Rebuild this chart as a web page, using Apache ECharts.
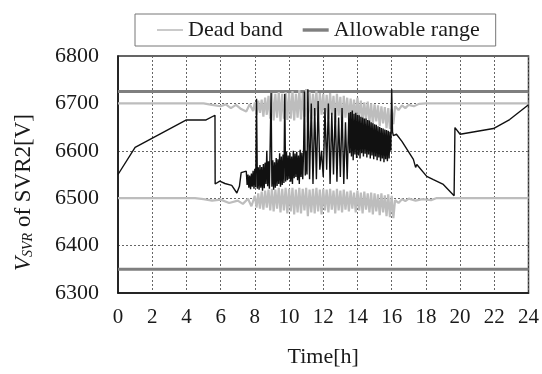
<!DOCTYPE html>
<html>
<head>
<meta charset="utf-8">
<script src="https://cdn.jsdelivr.net/npm/echarts@6/dist/echarts.min.js"></script>
<style>
  html, body { margin: 0; padding: 0; background: #fff; }
  #chart { width: 542px; height: 374px; }
</style>
</head>
<body>
<div id="chart"></div>
<script>
// Axis ticks
const hourTicks = [0, 2, 4, 6, 8, 10, 12, 14, 16, 18, 20, 22, 24];
const voltTicks = [6300, 6400, 6500, 6600, 6700, 6800];

// Allowable voltage range (upper / lower limits)
const allowUpper = [[0, 6725], [24, 6725]];
const allowLower = [[0, 6350], [24, 6350]];

// Dead band, upper edge [h, V]
const deadUpper = [
  [0, 6700], [5, 6700], [5.5, 6697], [6, 6694], [6.3, 6698], [6.6, 6690], [6.9, 6697], [7.2, 6688],
  [7.5, 6683], [7.7, 6698], [7.9, 6684], [8.0, 6702], [8.1, 6676], [8.2, 6706], [8.3, 6680], [8.4, 6708],
  [8.5, 6672], [8.6, 6712], [8.7, 6676], [8.8, 6716], [8.9, 6668], [9.0, 6722], [9.1, 6664], [9.2, 6720],
  [9.3, 6670], [9.4, 6724], [9.5, 6662], [9.6, 6720], [9.7, 6668], [9.8, 6724], [9.9, 6665], [10.0, 6722],
  [10.1, 6668], [10.2, 6726], [10.3, 6664], [10.4, 6720], [10.5, 6670], [10.6, 6728], [10.7, 6666], [10.8, 6722],
  [10.9, 6672], [11.0, 6730], [11.1, 6660], [11.2, 6724], [11.3, 6668], [11.4, 6720], [11.5, 6674], [11.6, 6726],
  [11.7, 6666], [11.8, 6722], [11.9, 6676], [12.0, 6720], [12.1, 6672], [12.2, 6718], [12.3, 6668], [12.4, 6722],
  [12.5, 6676], [12.6, 6716], [12.7, 6660], [12.8, 6720], [12.9, 6674], [13.0, 6714], [13.1, 6652], [13.2, 6716],
  [13.3, 6670], [13.4, 6712], [13.5, 6666], [13.6, 6710], [13.7, 6672], [13.8, 6708], [13.9, 6664], [14.0, 6712],
  [14.1, 6670], [14.2, 6706], [14.3, 6662], [14.4, 6702], [14.5, 6666], [14.6, 6704], [14.7, 6660], [14.8, 6700],
  [14.9, 6656], [15.0, 6698], [15.1, 6662], [15.2, 6696], [15.3, 6652], [15.4, 6694], [15.5, 6658], [15.6, 6692],
  [15.7, 6648], [15.8, 6690], [15.9, 6646], [16.0, 6688], [16.1, 6656], [16.2, 6694], [16.4, 6686], [16.6, 6696],
  [16.8, 6690], [17.0, 6697], [17.3, 6694], [17.6, 6699], [18, 6700], [24, 6700]
];

// Dead band, lower edge [h, V]
const deadLower = [
  [0, 6500], [4.5, 6500], [5, 6498], [5.5, 6495], [6, 6497], [6.5, 6490], [7, 6495], [7.3, 6488],
  [7.6, 6499], [7.8, 6483], [8.0, 6505], [8.1, 6480], [8.2, 6510], [8.3, 6478], [8.4, 6514], [8.5, 6476],
  [8.6, 6516], [8.7, 6480], [8.8, 6518], [8.9, 6474], [9.0, 6520], [9.1, 6472], [9.2, 6518], [9.3, 6478],
  [9.4, 6522], [9.5, 6470], [9.6, 6520], [9.7, 6474], [9.8, 6522], [9.9, 6468], [10.0, 6520], [10.1, 6472],
  [10.2, 6522], [10.3, 6466], [10.4, 6518], [10.5, 6470], [10.6, 6522], [10.7, 6468], [10.8, 6520], [10.9, 6474],
  [11.0, 6522], [11.1, 6462], [11.2, 6518], [11.3, 6470], [11.4, 6520], [11.5, 6468], [11.6, 6522], [11.7, 6472],
  [11.8, 6518], [11.9, 6466], [12.0, 6520], [12.1, 6474], [12.2, 6518], [12.3, 6470], [12.4, 6520], [12.5, 6476],
  [12.6, 6516], [12.7, 6468], [12.8, 6520], [12.9, 6474], [13.0, 6516], [13.1, 6470], [13.2, 6518], [13.3, 6476],
  [13.4, 6514], [13.5, 6472], [13.6, 6516], [13.7, 6478], [13.8, 6512], [13.9, 6470], [14.0, 6516], [14.1, 6474],
  [14.2, 6512], [14.3, 6468], [14.4, 6514], [14.5, 6476], [14.6, 6510], [14.7, 6470], [14.8, 6512], [14.9, 6466],
  [15.0, 6510], [15.1, 6472], [15.2, 6508], [15.3, 6464], [15.4, 6510], [15.5, 6470], [15.6, 6506], [15.7, 6462],
  [15.8, 6508], [15.9, 6460], [16.0, 6505], [16.1, 6458], [16.2, 6496], [16.4, 6490], [16.6, 6498], [16.8, 6494],
  [17.0, 6499], [17.4, 6495], [17.8, 6498], [18.3, 6496], [18.6, 6500], [24, 6500]
];

// SVR2 output voltage [h, V]
const svrVoltage = [
  [0, 6550], [1, 6607], [4, 6665], [5.15, 6665], [5.67, 6675], [5.68, 6530], [5.95, 6536], [6.25, 6531],
  [6.65, 6527], [6.95, 6511], [7.1, 6525], [7.2, 6554], [7.5, 6557],
  [7.55, 6528], [7.6, 6550], [7.65, 6522], [7.7, 6548], [7.75, 6519], [7.8, 6552], [7.85, 6524], [7.9, 6558],
  [7.95, 6520], [8.0, 6562], [8.05, 6523], [8.1, 6710], [8.15, 6520], [8.2, 6565], [8.25, 6518], [8.3, 6570],
  [8.35, 6522], [8.4, 6566], [8.45, 6516], [8.5, 6572], [8.55, 6521], [8.6, 6575], [8.65, 6530], [8.7, 6600],
  [8.75, 6525], [8.8, 6578], [8.85, 6520], [8.9, 6618], [8.95, 6722], [9.0, 6524], [9.05, 6580], [9.1, 6518],
  [9.15, 6576], [9.2, 6522], [9.25, 6585], [9.3, 6526], [9.35, 6582], [9.4, 6530], [9.45, 6595], [9.5, 6524],
  [9.55, 6588], [9.6, 6528], [9.65, 6592], [9.7, 6532], [9.75, 6720], [9.8, 6535], [9.85, 6598], [9.9, 6538],
  [9.95, 6590], [10.0, 6540], [10.05, 6596], [10.1, 6535], [10.15, 6588], [10.2, 6530], [10.25, 6600], [10.3, 6542],
  [10.35, 6594], [10.4, 6545], [10.45, 6598], [10.5, 6538], [10.55, 6590], [10.6, 6530], [10.65, 6602], [10.7, 6545],
  [10.75, 6596], [10.8, 6540], [10.85, 6598], [10.9, 6725], [10.95, 6548], [11.0, 6600], [11.05, 6550], [11.1, 6730],
  [11.2, 6540], [11.3, 6700], [11.4, 6530], [11.5, 6690], [11.6, 6540], [11.7, 6705], [11.8, 6560], [11.9, 6600],
  [12.0, 6545], [12.1, 6690], [12.2, 6560], [12.3, 6700], [12.4, 6530], [12.5, 6680], [12.6, 6550], [12.7, 6690],
  [12.8, 6535], [12.9, 6670], [13.0, 6545], [13.1, 6690], [13.2, 6530], [13.3, 6660], [13.4, 6540], [13.5, 6680],
  [13.55, 6595], [13.6, 6682], [13.65, 6588], [13.7, 6685], [13.75, 6580], [13.8, 6678], [13.85, 6592], [13.9, 6680],
  [13.95, 6585], [14.0, 6676], [14.05, 6590], [14.1, 6675], [14.15, 6584], [14.2, 6672], [14.25, 6595], [14.3, 6670],
  [14.35, 6588], [14.4, 6668], [14.45, 6594], [14.5, 6668], [14.55, 6586], [14.6, 6665], [14.65, 6592], [14.7, 6664],
  [14.75, 6584], [14.8, 6660], [14.85, 6590], [14.9, 6658], [14.95, 6582], [15.0, 6656], [15.05, 6588], [15.1, 6655],
  [15.15, 6580], [15.2, 6652], [15.25, 6586], [15.3, 6650], [15.35, 6578], [15.4, 6648], [15.45, 6584], [15.5, 6647],
  [15.55, 6576], [15.6, 6645], [15.65, 6582], [15.7, 6644], [15.75, 6578], [15.8, 6642], [15.85, 6584], [15.9, 6640],
  [15.95, 6600], [16.0, 6730], [16.05, 6640], [16.1, 6632], [16.28, 6635],
  [16.6, 6620], [17.27, 6582], [17.4, 6565], [17.47, 6571], [18.05, 6546], [18.44, 6539], [19.02, 6529], [19.65, 6505],
  [19.7, 6649], [20.0, 6635], [21.95, 6647], [22.9, 6666], [24, 6697]
];

const serif = '"Liberation Serif", "Times New Roman", serif';
const ink = '#1a1a1a';

const chart = echarts.init(document.getElementById('chart'), null, { renderer: 'canvas' });

chart.setOption({
  animation: false,
  backgroundColor: '#fff',
  textStyle: { fontFamily: serif, color: ink },
  legend: {
    left: 135,
    top: 14,
    padding: [5, 16, 5, 22],
    itemGap: 20,
    itemWidth: 26,
    itemHeight: 14,
    symbolKeepAspect: true,
    borderColor: '#777',
    borderWidth: 1,
    textStyle: { fontFamily: serif, fontSize: 22, color: ink },
    data: [
      { name: 'Dead band', icon: 'path://M0,0H26V1.6H0Z' },
      { name: 'Allowable range', icon: 'path://M0,0H26V3.4H0Z' }
    ]
  },
  grid: {
    left: 118, right: 13, top: 56, bottom: 81,
    show: true, borderColor: '#333', borderWidth: 1.5
  },
  xAxis: {
    type: 'value',
    min: hourTicks[0],
    max: hourTicks[hourTicks.length - 1],
    interval: 2,
    name: 'Time[h]',
    nameLocation: 'middle',
    nameGap: 53,
    nameTextStyle: { fontFamily: serif, fontSize: 22, color: ink },
    axisLine: { lineStyle: { color: '#111', width: 1.5 } },
    axisTick: { show: false },
    axisLabel: { fontFamily: serif, fontSize: 21, color: ink, margin: 14 },
    splitLine: { show: true, lineStyle: { color: '#666', type: [2, 2], width: 1 } }
  },
  yAxis: {
    type: 'value',
    min: voltTicks[0],
    max: voltTicks[voltTicks.length - 1],
    interval: 100,
    name: '{v|V}{s|SVR}{t| of SVR2[V]}',
    nameLocation: 'middle',
    nameRotate: 90,
    nameGap: 83,
    nameTextStyle: {
      fontFamily: serif, fontSize: 23, color: ink,
      rich: {
        v: { fontFamily: serif, fontSize: 23, fontStyle: 'italic', color: ink },
        s: { fontFamily: serif, fontSize: 14, fontStyle: 'italic', color: ink, verticalAlign: 'bottom', padding: [7, 0, 0, 0] },
        t: { fontFamily: serif, fontSize: 23, color: ink, padding: [0, 36, 0, 0] }
      }
    },
    axisLine: { show: true, lineStyle: { color: '#111', width: 1.5 } },
    axisTick: { show: false },
    axisLabel: { fontFamily: serif, fontSize: 22, color: ink, margin: 19, formatter: (v) => String(v) },
    splitLine: { show: true, lineStyle: { color: '#666', type: [2, 2], width: 1 } }
  },
  series: [
    {
      name: 'Allowable range', type: 'line', data: allowUpper, symbol: 'none', z: 2,
      lineStyle: { color: '#7f7f7f', width: 3 }, itemStyle: { color: '#7f7f7f' }
    },
    {
      name: 'Allowable range', type: 'line', data: allowLower, symbol: 'none', z: 2,
      lineStyle: { color: '#7f7f7f', width: 3 }, itemStyle: { color: '#7f7f7f' }
    },
    {
      name: 'Dead band', type: 'line', data: deadUpper, symbol: 'none', z: 3,
      lineStyle: { color: '#bdbdbd', width: 2.2 }, itemStyle: { color: '#bdbdbd' }
    },
    {
      name: 'Dead band', type: 'line', data: deadLower, symbol: 'none', z: 3,
      lineStyle: { color: '#bdbdbd', width: 2.2 }, itemStyle: { color: '#bdbdbd' }
    },
    {
      name: 'SVR2 voltage', type: 'line', data: svrVoltage, symbol: 'none', z: 4,
      lineStyle: { color: '#111', width: 1.4 }, itemStyle: { color: '#111' }
    }
  ]
});
</script>
</body>
</html>
